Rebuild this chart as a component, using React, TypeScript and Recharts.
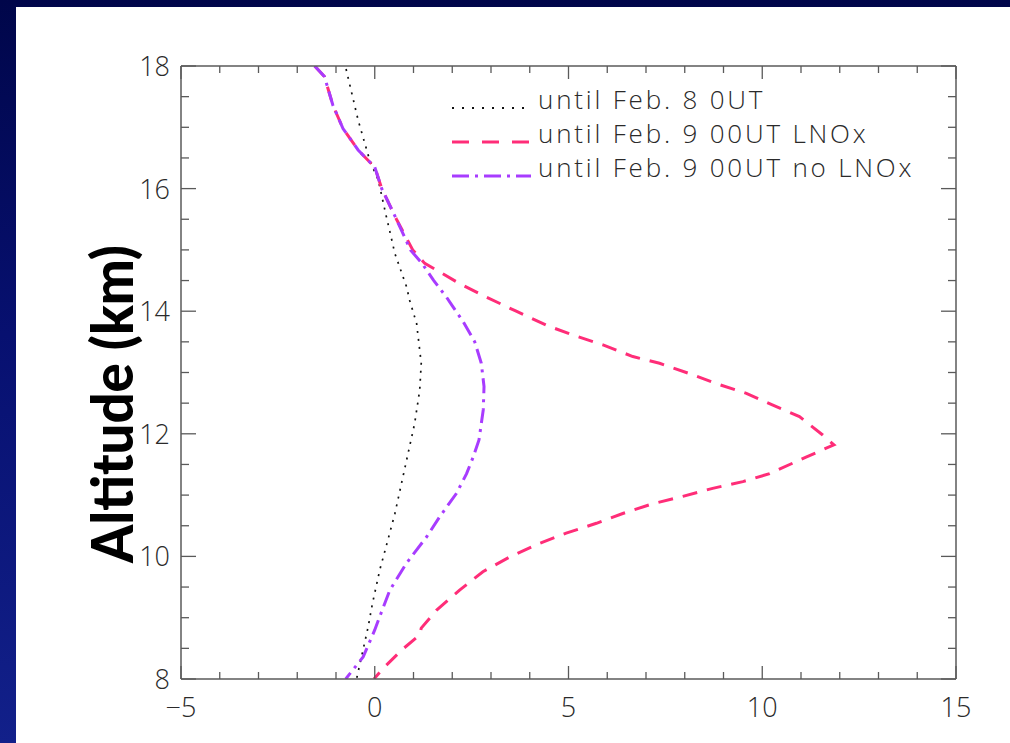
import React from "react";
import { LineChart, Line, XAxis, YAxis } from "recharts";

// ---------- data ----------
const feb8Alt = [17.95, 17.12, 16.46, 16.14, 15.54, 15.27, 14.94, 14.4, 14.18, 13.8, 13.15, 12.71, 12.17, 11.68, 11.19, 10.7, 10.27, 9.78, 9.23, 8.85, 8.0];
const feb8Val = [-0.74, -0.43, -0.13, 0.09, 0.3, 0.4, 0.52, 0.82, 0.9, 1.08, 1.2, 1.16, 1.03, 0.86, 0.69, 0.52, 0.34, 0.13, -0.06, -0.17, -0.47];

const lnoxAlt = [18.0, 17.83, 17.36, 16.98, 16.82, 16.63, 16.35, 16.0, 15.5, 15.0, 14.78, 14.64, 14.45, 14.23, 14.0, 13.77, 13.61, 13.45, 13.26, 13.15, 12.98, 12.82, 12.66, 12.47, 12.28, 11.98, 11.82, 11.62, 11.35, 11.22, 11.11, 10.98, 10.86, 10.7, 10.54, 10.38, 10.21, 9.99, 9.75, 9.45, 9.12, 8.83, 8.72, 8.47, 8.17, 8.0];
const lnoxVal = [-1.55, -1.3, -1.08, -0.82, -0.64, -0.43, 0.0, 0.18, 0.56, 0.98, 1.29, 1.68, 2.19, 2.88, 3.65, 4.43, 5.12, 5.89, 6.66, 7.35, 8.13, 8.81, 9.59, 10.26, 10.96, 11.56, 11.85, 11.13, 10.19, 9.5, 8.72, 7.95, 7.18, 6.4, 5.72, 4.94, 4.24, 3.48, 2.79, 2.19, 1.59, 1.2, 1.16, 0.69, 0.21, -0.02];

const noLnoxAlt = [18.0, 17.83, 17.36, 16.98, 16.82, 16.63, 16.35, 16.0, 15.5, 15.0, 14.78, 14.51, 14.23, 14.07, 13.83, 13.5, 13.15, 12.77, 12.39, 11.9, 11.62, 11.35, 11.03, 10.65, 10.32, 9.89, 9.45, 9.02, 8.8, 8.36, 8.0];
const noLnoxVal = [-1.55, -1.3, -1.08, -0.82, -0.64, -0.43, 0.0, 0.18, 0.56, 0.92, 1.22, 1.51, 1.85, 2.02, 2.28, 2.58, 2.75, 2.82, 2.8, 2.69, 2.54, 2.37, 2.11, 1.68, 1.34, 0.82, 0.39, 0.13, 0.0, -0.3, -0.75];

const seriesNames = ["until Feb. 8 0UT", "until Feb. 9 00UT LNOx", "until Feb. 9 00UT no LNOx"];
const xTicks = [-5, -4, -3, -2, -1, 0, 1, 2, 3, 4, 5, 6, 7, 8, 9, 10, 11, 12, 13, 14, 15];
const xMajorLabels: Record<number, string> = { [-5]: "\u22125", 0: "0", 5: "5", 10: "10", 15: "15" };
const yTicks = [8, 8.5, 9, 9.5, 10, 10.5, 11, 11.5, 12, 12.5, 13, 13.5, 14, 14.5, 15, 15.5, 16, 16.5, 17, 17.5, 18];
const yMajorLabels: Record<number, string> = { 8: "8", 10: "10", 12: "12", 14: "14", 16: "16", 18: "18" };
const yTitle = "Altitude (km)";

const toRows = (alt: number[], val: number[]) => alt.map((a, i) => ({ alt: a, v: val[i] }));
const feb8Data = toRows(feb8Alt, feb8Val);
const lnoxData = toRows(lnoxAlt, lnoxVal);
const noLnoxData = toRows(noLnoxAlt, noLnoxVal);

// ---------- styles ----------
const FONT = "'Open Sans', 'DejaVu Sans', sans-serif";
const TXT = "#2a2a2a";
const AXIS = "#5a5a5a";
const styles = [
  { color: "#111111", dash: "2 6", width: 1.7 },
  { color: "#ff2d78", dash: "15 10", width: 3 },
  { color: "#a83cff", dash: "15 6 3 6", width: 3 },
];

const BottomTick = (p: any) => {
  const { x, y, payload } = p;
  const v = payload.value;
  const major = xMajorLabels[v] !== undefined;
  return (
    <g>
      <line x1={x} y1={y} x2={x} y2={y - (major ? 13 : 7)} stroke={AXIS} strokeWidth={1.3} />
      {major && (
        <text x={x} y={y + 38} textAnchor="middle" fontFamily={FONT} fontWeight={300} fontSize={27} fill={TXT}>
          {xMajorLabels[v]}
        </text>
      )}
    </g>
  );
};
const TopTick = (p: any) => {
  const { x, y, payload } = p;
  const major = xMajorLabels[payload.value] !== undefined;
  return <line x1={x} y1={y} x2={x} y2={y + (major ? 13 : 7)} stroke={AXIS} strokeWidth={1.3} />;
};
const LeftTick = (p: any) => {
  const { x, y, payload } = p;
  const v = payload.value;
  const major = yMajorLabels[v] !== undefined;
  return (
    <g>
      <line x1={x} y1={y} x2={x + (major ? 15 : 8)} y2={y} stroke={AXIS} strokeWidth={1.3} />
      {major && (
        <text x={x - 11} y={y + 10} textAnchor="end" fontFamily={FONT} fontWeight={300} fontSize={27} fill={TXT}>
          {yMajorLabels[v]}
        </text>
      )}
    </g>
  );
};
const RightTick = (p: any) => {
  const { x, y, payload } = p;
  const major = yMajorLabels[payload.value] !== undefined;
  return <line x1={x} y1={y} x2={x - (major ? 15 : 8)} y2={y} stroke={AXIS} strokeWidth={1.3} />;
};

export default function App() {
  const seriesData = [feb8Data, lnoxData, noLnoxData];
  return (
    <div style={{ position: "absolute", left: 0, top: 0, width: 1010, height: 743, overflow: "hidden", background: "linear-gradient(180deg, #00064a 0%, #071070 45%, #12208a 100%)" }}>
      <div style={{ position: "absolute", left: 16, top: 7, width: 994, height: 736, background: "#ffffff" }} />
      <div style={{ position: "absolute", left: 0, top: 0 }}>
        <LineChart width={1010} height={743} layout="vertical" margin={{ top: 65, right: 53, bottom: 63, left: 180 }}>
          <XAxis xAxisId="b" type="number" orientation="bottom" domain={[-5, 15]} ticks={xTicks} interval={0} allowDataOverflow height={1} tickSize={0} tickMargin={0} tick={BottomTick} tickLine={false} axisLine={{ stroke: AXIS, strokeWidth: 1.5 }} />
          <XAxis xAxisId="t" type="number" orientation="top" domain={[-5, 15]} ticks={xTicks} interval={0} allowDataOverflow height={1} tickSize={0} tickMargin={0} tick={TopTick} tickLine={false} axisLine={{ stroke: AXIS, strokeWidth: 1.5 }} />
          <YAxis yAxisId="l" type="number" dataKey="alt" orientation="left" reversed domain={[8, 18]} ticks={yTicks} interval={0} allowDataOverflow width={1} tickSize={0} tickMargin={0} tick={LeftTick} tickLine={false} axisLine={{ stroke: AXIS, strokeWidth: 1.5 }} />
          <YAxis yAxisId="r" type="number" dataKey="alt" orientation="right" reversed domain={[8, 18]} ticks={yTicks} interval={0} allowDataOverflow width={1} tickSize={0} tickMargin={0} tick={RightTick} tickLine={false} axisLine={{ stroke: AXIS, strokeWidth: 1.5 }} />
          {seriesData.map((d, i) => (
            <Line
              key={seriesNames[i]}
              name={seriesNames[i]}
              data={d}
              dataKey="v"
              xAxisId="b"
              yAxisId="l"
              type="linear"
              stroke={styles[i].color}
              strokeWidth={styles[i].width}
              strokeDasharray={styles[i].dash}
              dot={false}
              activeDot={false}
              isAnimationActive={false}
            />
          ))}
        </LineChart>
      </div>
      <svg width={1010} height={743} style={{ position: "absolute", left: 0, top: 0, pointerEvents: "none" }}>
        <text transform="translate(133,404) rotate(-90)" textAnchor="middle" fontFamily="Lato, 'DejaVu Sans', sans-serif" fontWeight={900} fontSize={58} fill="#000" textLength={318} lengthAdjust="spacingAndGlyphs">
          {yTitle}
        </text>
        {seriesNames.map((n, i) => {
          const y = 109 + i * 34;
          return (
            <g key={n}>
              <line x1={452} y1={y - 1} x2={531} y2={y - 1} stroke={styles[i].color} strokeWidth={i === 0 ? 2 : 3.2} strokeDasharray={i === 0 ? "2 8" : i === 1 ? "17 13" : "17 6 3 6"} />
              <text x={538} y={y} fontFamily={FONT} fontWeight={300} fontSize={26} letterSpacing={2.8} fill={TXT}>
                {n}
              </text>
            </g>
          );
        })}
      </svg>
    </div>
  );
}
